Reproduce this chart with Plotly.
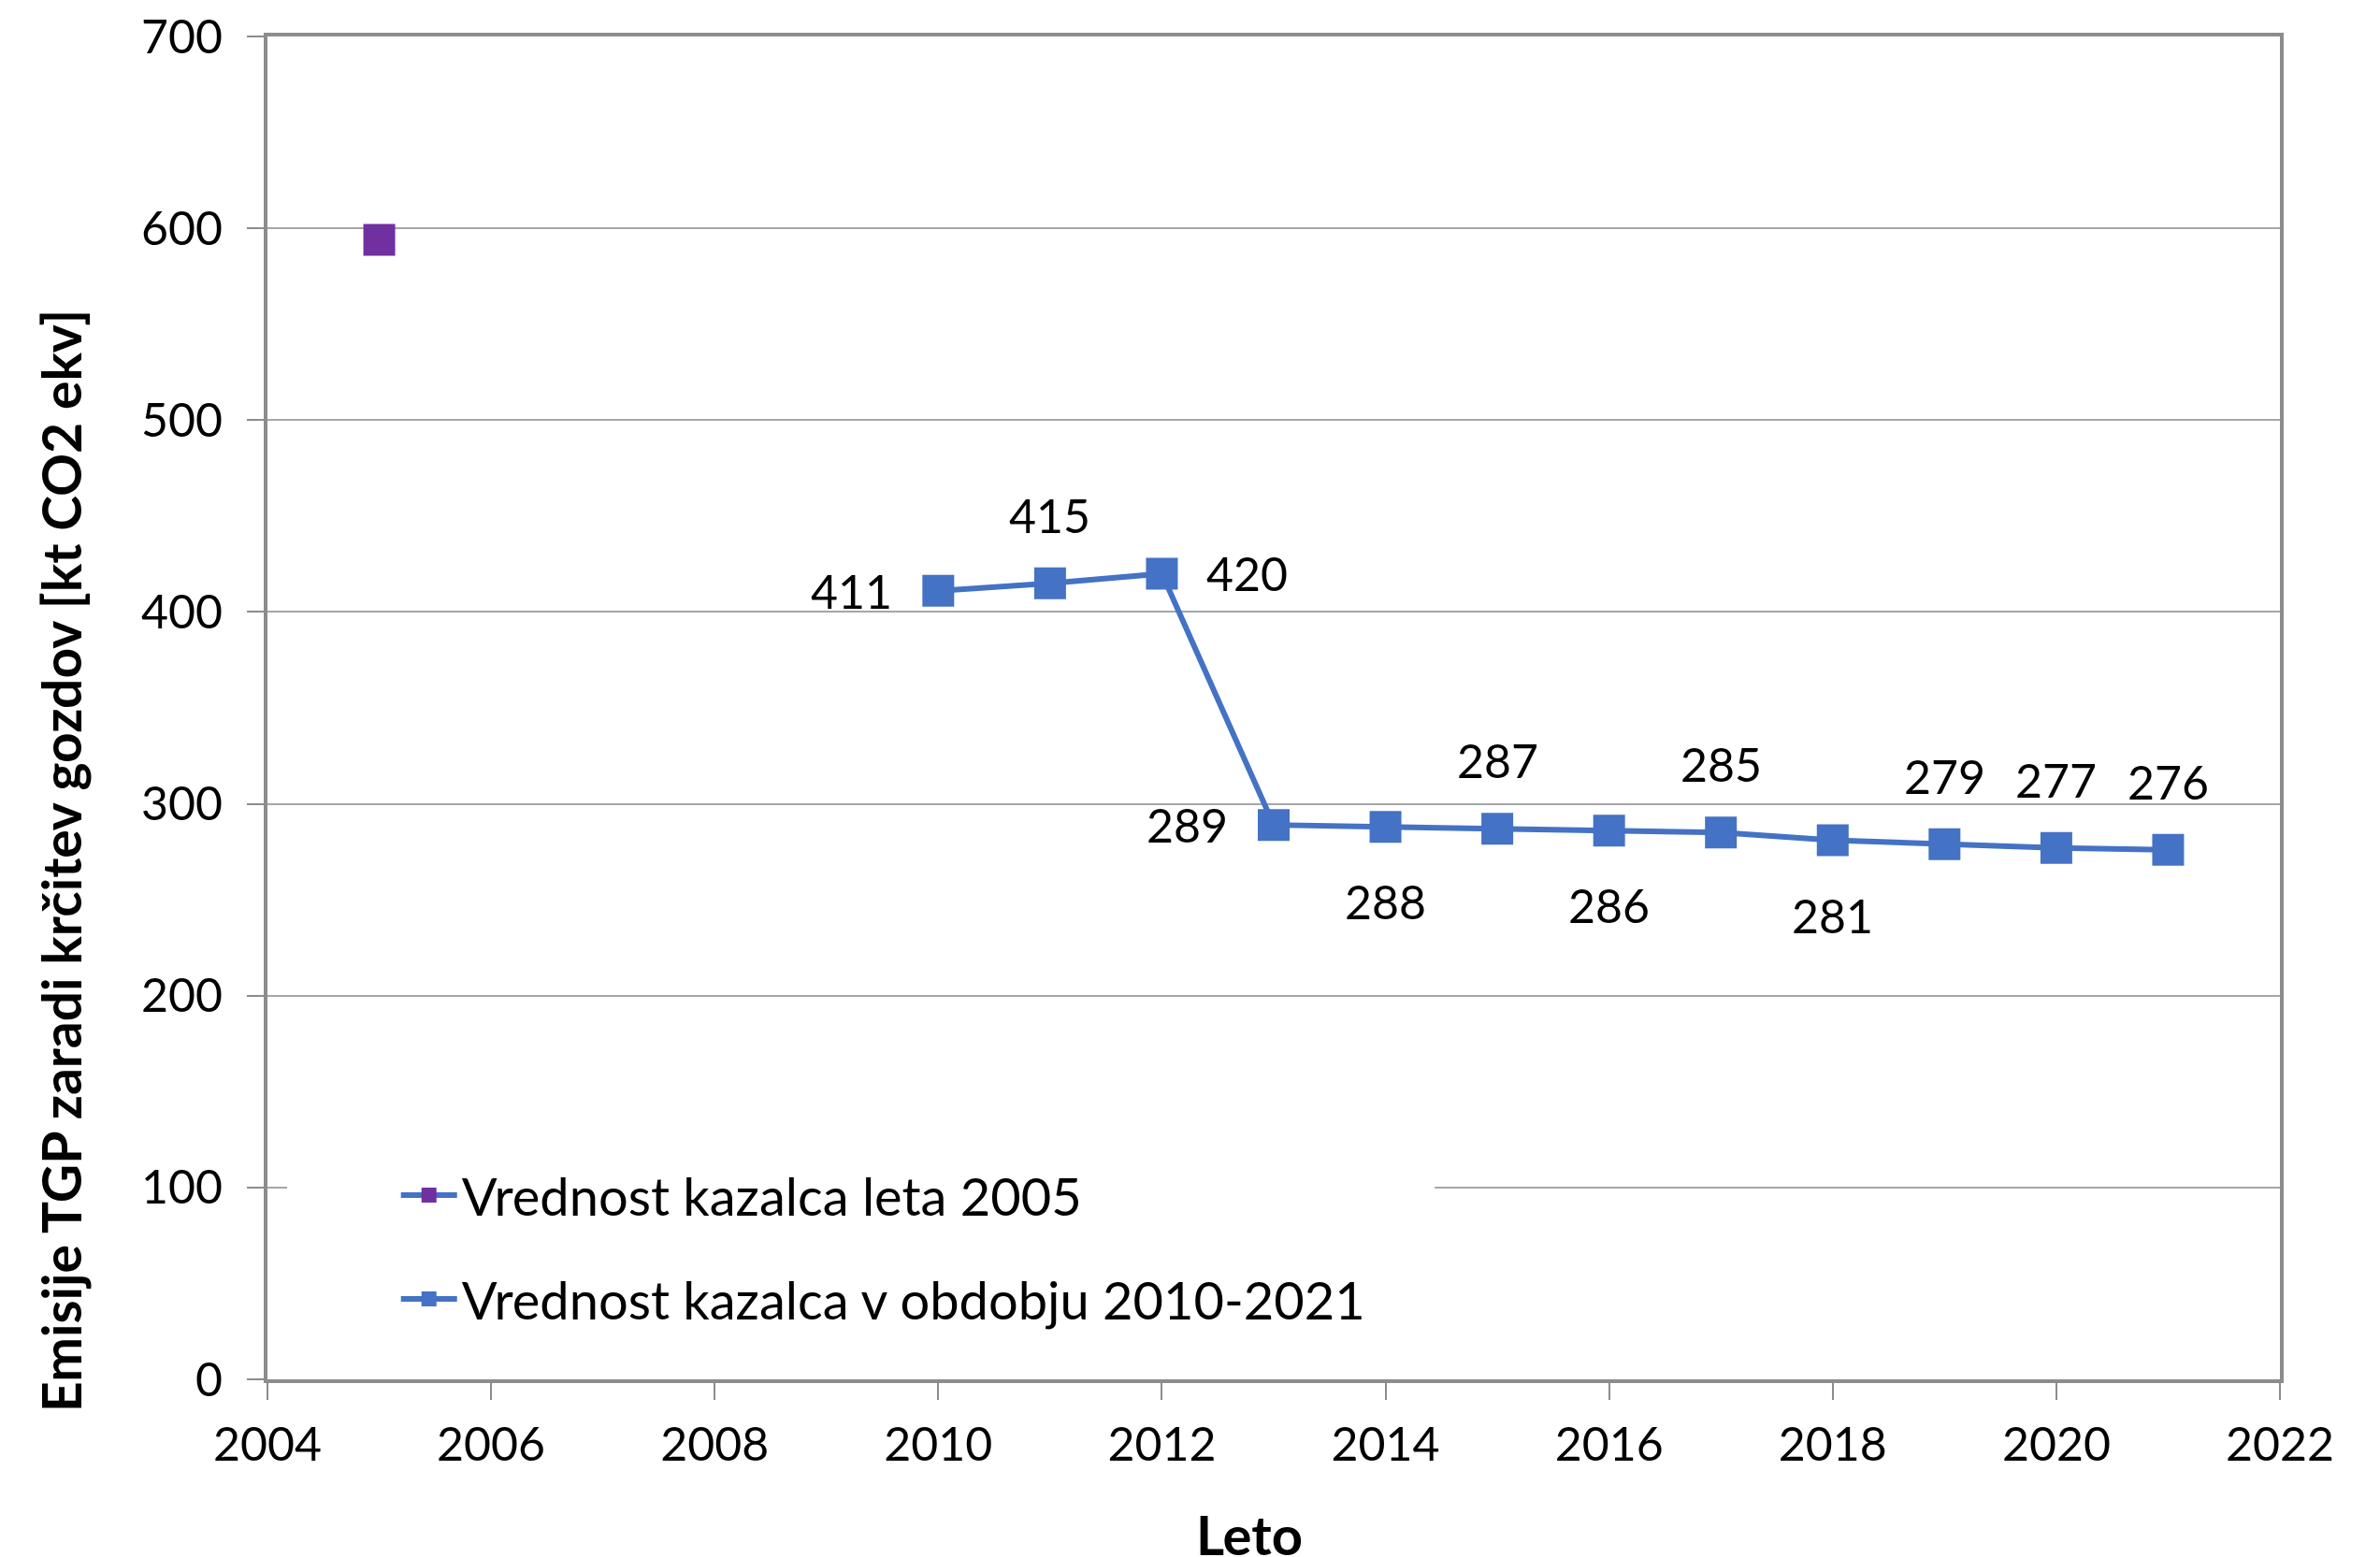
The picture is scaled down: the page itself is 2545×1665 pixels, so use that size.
import plotly.graph_objects as go

years_base = [2005]
values_base = [594]

years = [2010, 2011, 2012, 2013, 2014, 2015, 2016, 2017, 2018, 2019, 2020, 2021]
values = [411, 415, 420, 289, 288, 287, 286, 285, 281, 279, 277, 276]
label_pos = ["left", "top", "right", "left", "bottom", "top", "bottom", "top", "bottom", "top", "top", "top"]

name_base = "Vrednost kazalca leta 2005"
name_series = "Vrednost kazalca v obdobju 2010-2021"
x_title = "Leto"
y_title = "Emisije TGP zaradi krčitev gozdov [kt CO2 ekv]"

x_ticks = [2004, 2006, 2008, 2010, 2012, 2014, 2016, 2018, 2020, 2022]
y_ticks = [0, 100, 200, 300, 400, 500, 600, 700]

BLUE = "#4472C4"
PURPLE = "#7030A0"
FONT = "Lato"

fig = go.Figure()
fig.add_trace(go.Scatter(
    x=years_base, y=values_base, name=name_base, mode="lines+markers",
    line=dict(color=BLUE, width=6),
    marker=dict(symbol="square", size=34, color=PURPLE),
    legendgroup="a",
))
fig.add_trace(go.Scatter(
    x=years, y=values, name=name_series, mode="lines+markers",
    line=dict(color=BLUE, width=6),
    marker=dict(symbol="square", size=34, color=BLUE),
    legendgroup="b",
))

shifts = {"left": (-93, 0), "right": (91, 0), "top": (0, 73), "bottom": (0, -80)}
for x, y, p in zip(years, values, label_pos):
    dx, dy = shifts[p]
    fig.add_annotation(x=x, y=y, text=str(y), showarrow=False,
                       xshift=dx, yshift=dy, xanchor="center", yanchor="middle",
                       font=dict(family=FONT, size=50, color="black"))

# axis titles (placed like the original, slightly off-centre)
fig.add_annotation(xref="paper", yref="paper", x=-0.1027, y=0.3865, text="<b>" + y_title + "</b>",
                   textangle=-90, showarrow=False, xanchor="center", yanchor="middle",
                   font=dict(family=FONT, size=57, color="black"))
fig.add_annotation(xref="paper", yref="paper", x=0.488, y=-0.115, text="<b>" + x_title + "</b>",
                   showarrow=False, xanchor="center", yanchor="middle",
                   font=dict(family=FONT, size=58, color="black"))

# white backdrop of the legend, hiding the gridline behind it (legend is drawn above it)
fig.add_shape(type="rect", xref="paper", yref="paper", x0=0.0098, x1=0.58, y0=0.03, y1=0.175,
              fillcolor="white", line=dict(width=0), layer="above")

axis_common = dict(
    showline=True, linecolor="#8C8C8C", linewidth=4, mirror=True,
    ticks="outside", ticklen=18, tickwidth=2, tickcolor="#8C8C8C",
    tickfont=dict(family=FONT, size=50, color="black"),
    zeroline=False, automargin=False, ticklabeloverflow="allow",
)

fig.update_xaxes(range=[2004, 2022], tickvals=x_ticks, showgrid=False,
                 ticklabelstandoff=5, **axis_common)
fig.update_yaxes(range=[0, 700], tickvals=y_ticks, showgrid=True, gridcolor="#A6A6A6", gridwidth=2,
                 ticklabelstandoff=16, **axis_common)

fig.update_layout(
    width=2545, height=1665,
    margin=dict(l=278, r=115, t=31, b=198),
    paper_bgcolor="white", plot_bgcolor="white",
    font=dict(family=FONT, color="black"),
    legend=dict(x=0.064, y=0.167, xanchor="left", yanchor="top",
                bgcolor="rgba(0,0,0,0)", font=dict(family=FONT, size=56, color="black"),
                traceorder="grouped", tracegroupgap=35, itemwidth=60),
    showlegend=True,
)

fig.write_html("out.html")
